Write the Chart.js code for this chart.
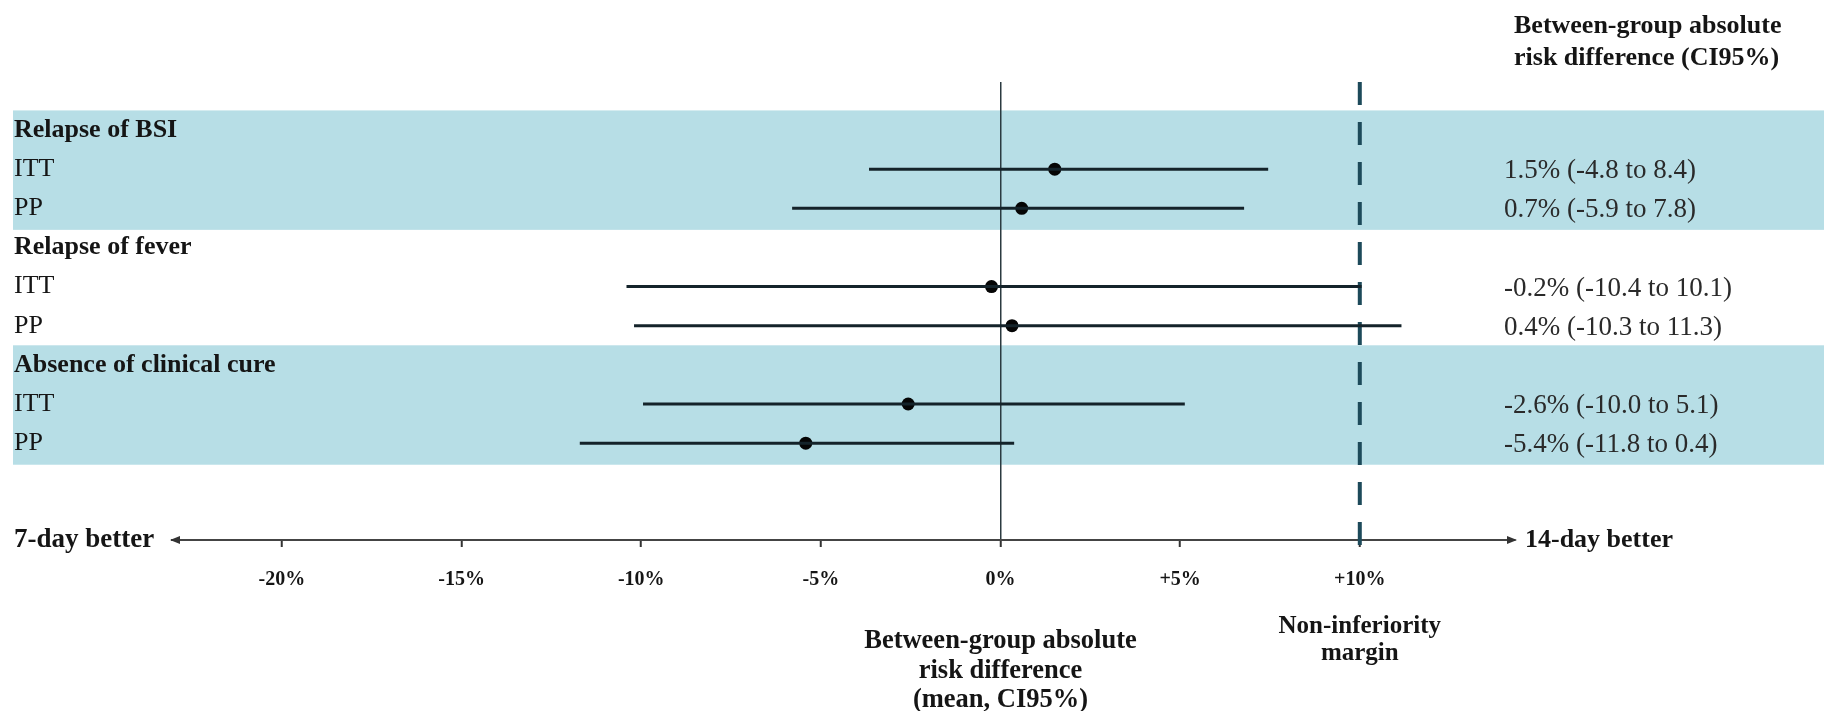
<!DOCTYPE html>
<html>
<head>
<meta charset="utf-8">
<script src="https://cdn.jsdelivr.net/npm/chart.js@4.4.1/dist/chart.umd.min.js"></script>
<style>
  html, body { margin: 0; padding: 0; background: #ffffff; }
  #wrap { width: 1828px; height: 711px; }
</style>
</head>
<body>
<div id="wrap"><canvas id="c" width="1828" height="711"></canvas></div>
<script>
// ---- data ----
const rowLabels = ['Relapse of BSI', 'ITT', 'PP', 'Relapse of fever', 'ITT', 'PP', 'Absence of clinical cure', 'ITT', 'PP'];
const headerRows = [true, false, false, true, false, false, true, false, false];
const shadedGroups = [[0, 2], [6, 8]];
const meanValues  = [null, 1.51, 0.59, null, -0.25, 0.32, null, -2.57, -5.42];
const lowerValues = [null, -3.66, -5.80, null, -10.41, -10.20, null, -9.95, -11.71];
const upperValues = [null, 7.45, 6.78, null, 10.05, 11.16, null, 5.13, 0.38];
const ciTexts = ['', '1.5% (-4.8 to 8.4)', '0.7% (-5.9 to 7.8)', '', '-0.2% (-10.4 to 10.1)', '0.4% (-10.3 to 11.3)', '', '-2.6% (-10.0 to 5.1)', '-5.4% (-11.8 to 0.4)'];
const xTickValues = [-20, -15, -10, -5, 0, 5, 10];
const xTickLabels = ['-20%', '-15%', '-10%', '-5%', '0%', '+5%', '+10%'];
const marginValue = 10;
const rightTitle = ['Between-group absolute', 'risk difference (CI95%)'];
const xTitle = ['Between-group absolute', 'risk difference', '(mean, CI95%)'];
const marginTitle = ['Non-inferiority', 'margin'];
const leftEndLabel = '7-day better';
const rightEndLabel = '14-day better';

const SERIF = "'Liberation Serif', 'Times New Roman', serif";
const INK = '#151515';

// ---- datasets ----
const datasets = [];
rowLabels.forEach((lab, i) => {
  if (lowerValues[i] === null) return;
  datasets.push({
    type: 'scatter',
    showLine: true,
    data: [{ x: lowerValues[i], y: i }, { x: upperValues[i], y: i }],
    borderColor: '#14232a',
    borderWidth: 3,
    pointRadius: 0,
    borderCapStyle: 'butt'
  });
});
datasets.push({
  type: 'scatter',
  data: meanValues.map((v, i) => v === null ? null : { x: v, y: i }).filter(p => p),
  pointRadius: 6.5,
  pointBackgroundColor: '#050505',
  pointBorderColor: '#050505',
  pointBorderWidth: 0
});

// ---- plugins ----
const bands = {
  id: 'bands',
  beforeDraw(chart) {
    const { ctx } = chart;
    const y = chart.scales.y;
    ctx.save();
    ctx.fillStyle = '#b7dee6';
    shadedGroups.forEach(([a, b]) => {
      const top = y.getPixelForValue(a - 0.5);
      const bot = y.getPixelForValue(b + 0.5) + 2;
      ctx.fillRect(13, top, 1824 - 13, bot - top);
    });
    ctx.restore();
  }
};

const margin = {
  id: 'margin',
  beforeDatasetsDraw(chart) {
    const { ctx, chartArea } = chart;
    const x = chart.scales.x.getPixelForValue(marginValue);
    ctx.save();
    ctx.strokeStyle = '#1d4a5a';
    ctx.lineWidth = 4;
    ctx.setLineDash([23, 17]);
    ctx.beginPath();
    ctx.moveTo(x, chartArea.top);
    ctx.lineTo(x, chartArea.bottom + 8);
    ctx.stroke();
    ctx.restore();
  }
};

const texts = {
  id: 'texts',
  afterDraw(chart) {
    const { ctx, chartArea } = chart;
    const xs = chart.scales.x, ys = chart.scales.y;
    ctx.save();
    ctx.fillStyle = INK;
    ctx.textBaseline = 'middle';
    // right column title
    ctx.textAlign = 'left';
    ctx.font = 'bold 26px ' + SERIF;
    ctx.fillText(rightTitle[0], 1514, 26);
    ctx.fillText(rightTitle[1], 1514, 58);
    // right column values
    ctx.font = '27px ' + SERIF;
    ctx.fillStyle = '#2a2a2a';
    ciTexts.forEach((t, i) => {
      if (t) ctx.fillText(t, 1504, ys.getPixelForValue(i) + 2);
    });
    // axis end labels and arrows
    ctx.fillStyle = INK;
    const ay = chartArea.bottom;
    ctx.textAlign = 'left';
    ctx.font = 'bold 27px ' + SERIF;
    ctx.fillText(leftEndLabel, 14, ay);
    ctx.font = 'bold 26px ' + SERIF;
    ctx.fillText(rightEndLabel, chartArea.right + 10, ay);
    ctx.fillStyle = '#333';
    ctx.beginPath();
    ctx.moveTo(chartArea.left - 2, ay);
    ctx.lineTo(chartArea.left + 8, ay - 4);
    ctx.lineTo(chartArea.left + 8, ay + 4);
    ctx.closePath();
    ctx.fill();
    ctx.beginPath();
    ctx.moveTo(chartArea.right + 2, ay);
    ctx.lineTo(chartArea.right - 8, ay - 4);
    ctx.lineTo(chartArea.right - 8, ay + 4);
    ctx.closePath();
    ctx.fill();
    // bottom titles
    ctx.fillStyle = INK;
    ctx.textAlign = 'center';
    const x0 = xs.getPixelForValue(0);
    const xm = xs.getPixelForValue(marginValue);
    ctx.font = 'bold 25px ' + SERIF;
    ctx.fillText(marginTitle[0], xm, 627);
    ctx.fillText(marginTitle[1], xm, 654);
    ctx.font = 'bold 26.5px ' + SERIF;
    ctx.fillText(xTitle[0], x0, 641);
    ctx.fillText(xTitle[1], x0, 671);
    ctx.fillText(xTitle[2], x0, 700);
    ctx.restore();
  }
};

new Chart(document.getElementById('c'), {
  type: 'scatter',
  data: { datasets },
  options: {
    responsive: false,
    animation: false,
    devicePixelRatio: 1,
    layout: { padding: { left: 172, right: 313, top: 82, bottom: 0 } },
    plugins: { legend: { display: false }, tooltip: { enabled: false } },
    scales: {
      x: {
        type: 'linear',
        min: -23.06,
        max: 14.32,
        afterBuildTicks: s => { s.ticks = xTickValues.map(v => ({ value: v })); },
        afterFit: s => { s.height = 171; },
        ticks: {
          callback: (v, i) => xTickLabels[i],
          autoSkip: false,
          maxRotation: 0,
          padding: 21,
          color: INK,
          font: { family: SERIF, size: 20, weight: 'bold' }
        },
        grid: {
          drawOnChartArea: true,
          color: c => (c.tick && c.tick.value === 0) ? '#2b3a40' : 'rgba(0,0,0,0)',
          lineWidth: 1.5,
          tickColor: '#333',
          tickLength: 7,
          tickWidth: 2
        },
        border: { display: true, color: '#444', width: 2 }
      },
      y: {
        type: 'linear',
        reverse: true,
        min: -1.226,
        max: 10.474,
        afterBuildTicks: s => { s.ticks = rowLabels.map((l, i) => ({ value: i })); },
        afterFit: s => { s.width = 0; },
        ticks: {
          mirror: true,
          crossAlign: 'near',
          padding: -158,
          autoSkip: false,
          color: INK,
          callback: (v) => rowLabels[v],
          font: c => ({ family: SERIF, size: 26, weight: headerRows[c.index] ? 'bold' : 'normal' })
        },
        grid: { display: false },
        border: { display: false }
      }
    }
  },
  plugins: [bands, margin, texts]
});
</script>
</body>
</html>
